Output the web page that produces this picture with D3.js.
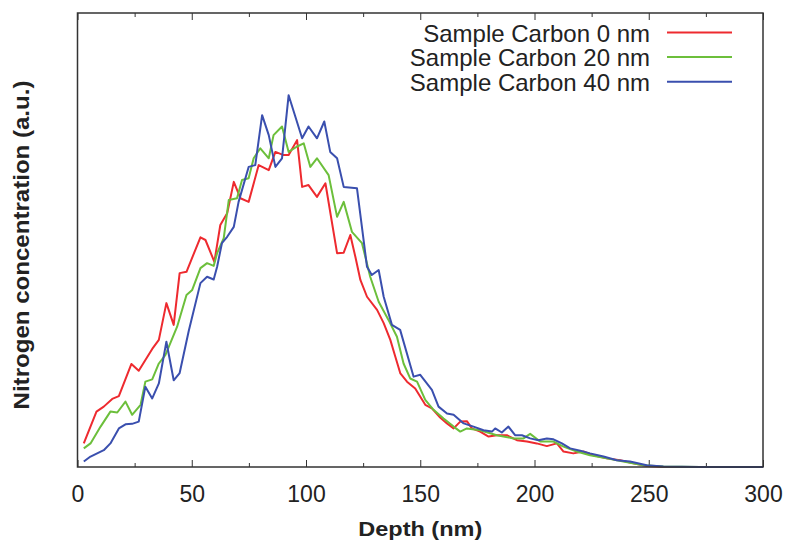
<!DOCTYPE html>
<html>
<head>
<meta charset="utf-8">
<script src="https://cdn.jsdelivr.net/npm/d3@7"></script>
<style>
  body { margin: 0; background: #fff; }
  text { font-family: 'Liberation Sans', Arial, sans-serif; fill: #222; }
</style>
</head>
<body>
<div id="chart"></div>
<script>
const width = 788
const height = 541
const margin = { top: 13, left: 77.5, right: 25, bottom: 74 }

// depth (nm) and nitrogen concentration (a.u.)
const redDepth = [2.75, 8.3, 11.5, 15.2, 18.1, 23.6, 26.8, 32.7, 35.6, 38.9, 42.1, 44.7, 47.7, 53.8, 56.0, 59.9, 62.5, 65.5, 68.4, 71.3, 74.9, 79.3, 83.7, 86.6, 90.2, 92.4, 96.1, 98.3, 101.1, 104.8, 108.5, 113.6, 116.5, 119.4, 121.6, 123.8, 126.7, 131.1, 134.0, 136.9, 139.1, 141.3, 144.2, 147.8, 152.2, 155.1, 158.7, 161.7, 164.6, 167.5, 170.4, 172.6, 176.2, 179.9, 183.5, 187.9, 192.3, 196.7, 201.0, 205.4, 209.8, 212.7, 217.0, 221.4, 225.8, 231.6, 237.5, 243.3, 249.1, 256.4, 273.8, 282.5]
const redValue = [5.2, 12.2, 13.3, 15.0, 15.6, 22.7, 21.2, 26.0, 28.0, 36.1, 31.3, 42.7, 43.0, 50.6, 50.0, 45.2, 53.3, 55.9, 62.8, 59.2, 58.4, 66.5, 65.4, 69.4, 68.7, 68.7, 72.0, 61.7, 62.1, 59.5, 62.5, 47.1, 47.2, 51.1, 46.3, 41.2, 37.5, 34.6, 31.7, 28.0, 24.3, 20.6, 18.8, 17.3, 13.7, 12.9, 10.9, 9.6, 8.5, 10.0, 10.1, 8.5, 7.8, 6.7, 7.0, 7.0, 5.9, 5.6, 5.2, 4.6, 5.2, 3.4, 3.0, 3.4, 2.6, 1.9, 1.5, 0.8, 0.2, 0, 0, 0]

const greenDepth = [2.75, 5.7, 10.1, 14.4, 17.4, 21.0, 23.9, 27.6, 29.7, 32.7, 35.6, 38.5, 43.6, 47.7, 50.2, 53.8, 56.7, 59.6, 61.1, 64.0, 66.2, 69.8, 72.0, 74.9, 77.1, 80.0, 83.7, 85.8, 89.5, 92.4, 96.1, 99.0, 101.9, 104.8, 109.9, 113.6, 116.5, 120.1, 124.5, 128.1, 131.8, 136.1, 139.8, 142.7, 145.6, 148.6, 152.2, 155.8, 160.2, 164.6, 167.5, 170.4, 176.2, 183.5, 190.8, 195.2, 198.1, 202.5, 208.3, 212.7, 218.5, 224.3, 231.6, 238.9, 247.6, 256.4, 272.4, 290]
const greenValue = [4.1, 5.2, 8.9, 12.2, 12.0, 14.4, 11.5, 13.7, 18.8, 19.3, 22.8, 24.7, 30.9, 37.9, 39.0, 43.8, 44.9, 44.3, 47.1, 50.4, 58.8, 59.2, 63.2, 63.6, 68.0, 70.2, 68.0, 73.1, 75.0, 69.4, 70.6, 71.3, 66.1, 68.0, 64.3, 55.1, 58.4, 51.8, 49.3, 41.9, 36.4, 32.4, 28.7, 22.8, 19.5, 18.8, 14.8, 12.6, 10.7, 8.9, 7.8, 8.5, 8.1, 7.0, 6.3, 6.3, 7.3, 5.6, 5.6, 4.5, 3.4, 2.6, 1.9, 1.2, 0.4, 0.1, 0, 0]

const blueDepth = [2.75, 5.7, 11.5, 14.4, 18.1, 21.0, 23.9, 26.8, 29.7, 32.7, 35.6, 38.9, 42.1, 44.7, 48.7, 53.8, 56.7, 59.6, 61.1, 63.2, 65.5, 68.4, 70.5, 74.9, 77.8, 80.8, 83.7, 86.6, 89.5, 92.4, 98.3, 101.1, 104.8, 108.0, 110.6, 113.6, 116.5, 122.3, 126.7, 128.8, 131.8, 134.0, 137.6, 141.2, 147.1, 150.0, 155.1, 158.0, 161.7, 164.6, 169.0, 173.3, 177.7, 181.4, 182.8, 185.7, 188.6, 191.5, 194.5, 198.1, 201.7, 205.4, 208.3, 212.0, 215.6, 220.0, 224.3, 230.2, 236.0, 241.8, 249.1, 256.4, 272.4, 300]
const blueValue = [1.2, 2.3, 3.7, 5.2, 8.5, 9.4, 9.5, 10.0, 17.7, 15.1, 18.4, 27.6, 19.1, 20.7, 30.0, 40.5, 41.9, 41.3, 44.1, 49.3, 50.7, 52.9, 58.4, 66.1, 66.5, 77.5, 73.1, 66.1, 68.0, 81.9, 72.4, 75.0, 72.4, 76.1, 69.4, 68.0, 61.7, 61.4, 44.1, 42.3, 43.4, 37.5, 31.3, 30.2, 19.9, 20.3, 17.0, 13.3, 11.8, 11.5, 9.6, 8.9, 8.1, 7.8, 8.5, 7.6, 8.9, 7.0, 7.0, 6.3, 5.9, 6.3, 6.1, 5.2, 4.1, 3.6, 3.0, 2.3, 1.5, 1.2, 0.4, 0.1, 0, 0]

const seriesNames = ['Sample Carbon 0 nm', 'Sample Carbon 20 nm', 'Sample Carbon 40 nm']
const seriesColors = ['#ee2a2f', '#6cbf3b', '#3a4fae']
const majorTicks = [0, 50, 100, 150, 200, 250, 300]
const minorTicks = [25, 75, 125, 175, 225, 275]

const series = [
  { name: seriesNames[0], color: seriesColors[0], points: d3.zip(redDepth, redValue) },
  { name: seriesNames[1], color: seriesColors[1], points: d3.zip(greenDepth, greenValue) },
  { name: seriesNames[2], color: seriesColors[2], points: d3.zip(blueDepth, blueValue) }
]

const svg = d3
  .select('#chart')
  .append('svg')
  .attr('width', width)
  .attr('height', height)

const x = d3.scaleLinear().domain([0, 300]).range([margin.left, width - margin.right])
const y = d3.scaleLinear().domain([0, 100]).range([height - margin.bottom, margin.top])

const bottom = height - margin.bottom

// ticks point inward, labels only on the bottom
svg.append('g')
  .attr('transform', `translate(0,${bottom})`)
  .call(d3.axisBottom(x).tickValues(majorTicks).tickSize(-7).tickPadding(18.5).tickFormat(d3.format('d')))
  .call(g => g.select('.domain').remove())
  .call(g => g.selectAll('text').attr('font-size', 23).attr('font-family', null).style('fill', '#222'))
  .call(g => g.selectAll('line').attr('stroke', '#333'))

svg.append('g')
  .attr('transform', `translate(0,${bottom})`)
  .call(d3.axisBottom(x).tickValues(minorTicks).tickSize(-4).tickFormat(''))
  .call(g => g.select('.domain').remove())
  .call(g => g.selectAll('line').attr('stroke', '#333'))

svg.append('g')
  .attr('transform', `translate(0,${margin.top})`)
  .call(d3.axisTop(x).tickValues(majorTicks).tickSize(-7).tickFormat(''))
  .call(g => g.select('.domain').remove())
  .call(g => g.selectAll('line').attr('stroke', '#333'))

svg.append('g')
  .attr('transform', `translate(0,${margin.top})`)
  .call(d3.axisTop(x).tickValues(minorTicks).tickSize(-4).tickFormat(''))
  .call(g => g.select('.domain').remove())
  .call(g => g.selectAll('line').attr('stroke', '#333'))

var line = d3.line()
  .x(d => x(d[0]))
  .y(d => y(d[1]))

svg.selectAll('.series')
  .data(series)
  .enter()
  .append('path')
  .attr('class', 'series')
  .attr('fill', 'none')
  .attr('stroke', d => d.color)
  .attr('stroke-width', 2)
  .attr('stroke-linejoin', 'round')
  .attr('d', d => line(d.points))

// frame
svg.append('rect')
  .attr('x', x(0))
  .attr('y', y(100))
  .attr('width', x(300) - x(0))
  .attr('height', y(0) - y(100))
  .attr('fill', 'none')
  .attr('stroke', '#333')
  .attr('stroke-width', 1.5)

// legend
var legend = svg.selectAll('.legend')
  .data(series)
  .enter()
  .append('g')
  .attr('class', 'legend')
  .attr('transform', (d, i) => `translate(0,${32.5 + i * 24.6})`)

legend.append('text')
  .attr('x', 650)
  .attr('y', 9)
  .attr('text-anchor', 'end')
  .attr('font-size', 24)
  .text(d => d.name)

legend.append('line')
  .attr('x1', 667)
  .attr('x2', 732)
  .attr('stroke', d => d.color)
  .attr('stroke-width', 2)

// axis titles are a bit wider in the original, stretch them a little
svg.append('text')
  .attr('transform', `translate(${(x(0) + x(300)) / 2},535.5) scale(1.12,1)`)
  .attr('text-anchor', 'middle')
  .attr('font-size', 21)
  .attr('font-weight', 'bold')
  .text('Depth (nm)')

svg.append('text')
  .attr('transform', 'translate(29,245) rotate(-90) scale(1.12,1)')
  .attr('text-anchor', 'middle')
  .attr('font-size', 21.5)
  .attr('font-weight', 'bold')
  .text('Nitrogen concentration (a.u.)')
</script>
</body>
</html>
